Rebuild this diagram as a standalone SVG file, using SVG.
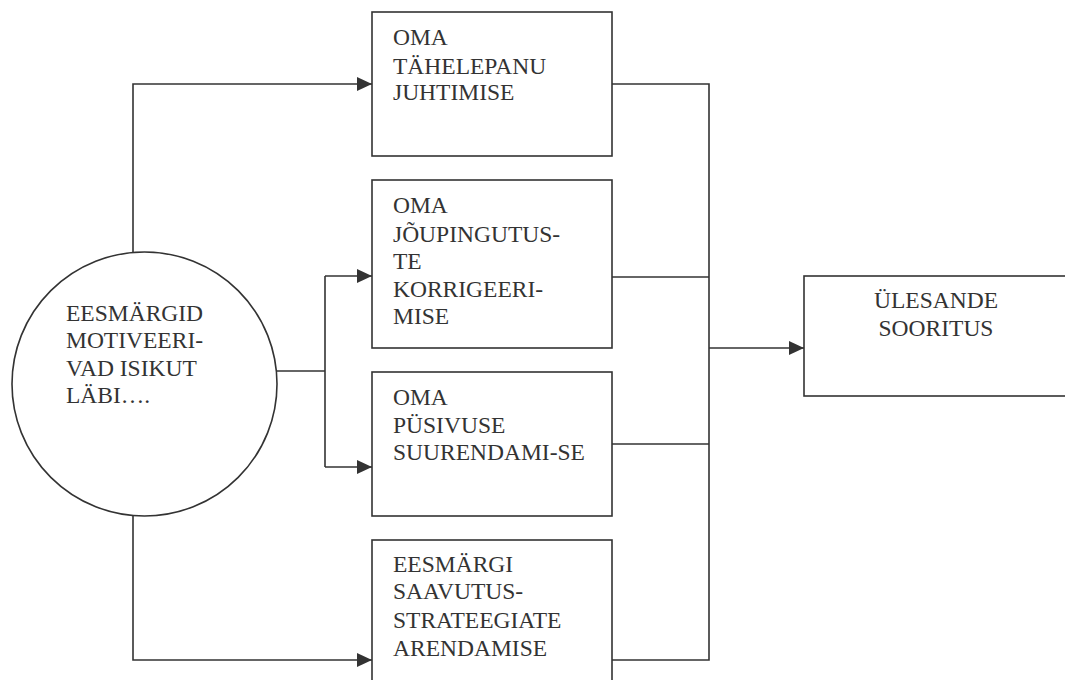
<svg xmlns="http://www.w3.org/2000/svg" width="1065" height="680" viewBox="0 0 1065 680">
<style>
.box{fill:#fff;stroke:#333;stroke-width:1.6}
.ln{fill:none;stroke:#333;stroke-width:1.6}
.t{font-family:'Liberation Serif','Times New Roman','DejaVu Serif',serif;font-size:23.5px;fill:#333}
</style>
<defs>
<marker id="ah" markerUnits="userSpaceOnUse" markerWidth="15" markerHeight="14" refX="15" refY="7" orient="auto">
<path d="M0,0 L15,7 L0,14 z" fill="#333"/>
</marker>
</defs>
<rect width="1065" height="680" fill="#fff"/>
<g id="connectors">
<path class="ln" d="M133,252 V84 H372" marker-end="url(#ah)"/>
<path class="ln" d="M133,516 V660 H372" marker-end="url(#ah)"/>
<path class="ln" d="M277,371 H325"/>
<path class="ln" d="M325,276 V467"/>
<path class="ln" d="M325,276 H372" marker-end="url(#ah)"/>
<path class="ln" d="M325,467 H372" marker-end="url(#ah)"/>
<path class="ln" d="M612,84 H709 V660 H612"/>
<path class="ln" d="M612,277 H709"/>
<path class="ln" d="M612,444 H709"/>
<path class="ln" d="M709,348 H804" marker-end="url(#ah)"/>
</g>
<g id="source" class="t">
<ellipse class="box" cx="144.5" cy="384" rx="132.5" ry="132"/>
<text x="66" y="321">EESMÄRGID</text>
<text x="66" y="348">MOTIVEERI-</text>
<text x="66" y="376">VAD ISIKUT</text>
<text x="66" y="403">LÄBI….</text>
</g>
<g id="box1" class="t">
<rect class="box" x="372" y="12" width="240" height="144"/>
<text x="393" y="45">OMA</text>
<text x="393" y="74">TÄHELEPANU</text>
<text x="393" y="100">JUHTIMISE</text>
</g>
<g id="box2" class="t">
<rect class="box" x="372" y="180" width="240" height="168"/>
<text x="393" y="213">OMA</text>
<text x="393" y="242">JÕUPINGUTUS-</text>
<text x="393" y="269">TE</text>
<text x="393" y="297">KORRIGEERI-</text>
<text x="393" y="324">MISE</text>
</g>
<g id="box3" class="t">
<rect class="box" x="372" y="372" width="240" height="144"/>
<text x="393" y="405">OMA</text>
<text x="393" y="433">PÜSIVUSE</text>
<text x="393" y="460">SUURENDAMI-SE</text>
</g>
<g id="box4" class="t">
<rect class="box" x="372" y="540" width="240" height="150"/>
<text x="393" y="572">EESMÄRGI</text>
<text x="393" y="599">SAAVUTUS-</text>
<text x="393" y="628">STRATEEGIATE</text>
<text x="393" y="656">ARENDAMISE</text>
</g>
<g id="result" class="t">
<rect class="box" x="804" y="276" width="270" height="120"/>
<text x="936" y="308" text-anchor="middle">ÜLESANDE</text>
<text x="936" y="336" text-anchor="middle">SOORITUS</text>
</g>
</svg>
